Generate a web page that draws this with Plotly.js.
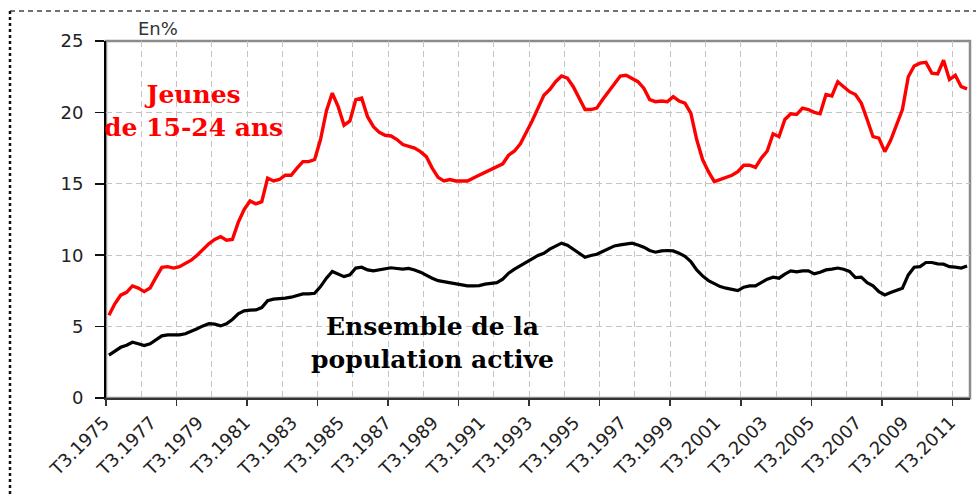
<!DOCTYPE html>
<html>
<head>
<meta charset="utf-8">
<script src="https://cdn.plot.ly/plotly-3.0.1.min.js"></script>
<style>html,body{margin:0;padding:0;background:#fff;}#chart{width:976px;height:497px;}</style>
</head>
<body>
<div id="chart"></div>
<script>
// Quarterly unemployment rate (%), from T3.1975 to T1.2012
const startYear = 1975, startQuarter = 3, nQuarters = 147;
const quarters = [];
for (let i = 0; i < nQuarters; i++) {
  const q = (startQuarter - 1 + i) % 4 + 1;
  const y = startYear + Math.floor((startQuarter - 1 + i) / 4);
  quarters.push('T' + q + '.' + y);
}

const jeunes = [
  5.8, 6.6, 7.2, 7.4, 7.85, 7.7, 7.45, 7.7, 8.45, 9.15,
  9.2, 9.1, 9.2, 9.4, 9.65, 10.0, 10.4, 10.8, 11.1, 11.3,
  11.05, 11.1, 12.3, 13.2, 13.8, 13.6, 13.75, 15.4, 15.2, 15.3,
  15.6, 15.6, 16.1, 16.55, 16.55, 16.7, 18.1, 20.1, 21.35, 20.4,
  19.1, 19.4, 20.9, 21.0, 19.7, 19.0, 18.6, 18.4, 18.35, 18.1,
  17.75, 17.6, 17.5, 17.25, 16.9, 16.1, 15.45, 15.2, 15.3, 15.2,
  15.2, 15.2, 15.4, 15.6, 15.8, 15.95, 16.15, 16.4, 17.0, 17.3,
  17.8, 18.55, 19.4, 20.3, 21.2, 21.6, 22.15, 22.55, 22.4, 21.8,
  21.0, 20.2, 20.2, 20.3, 20.9, 21.45, 21.95, 22.55, 22.6, 22.4,
  22.15, 21.7, 20.9, 20.75, 20.8, 20.75, 21.1, 20.8, 20.65, 19.95,
  18.1, 16.7, 15.85, 15.15, 15.3, 15.5, 15.6, 15.85, 16.3, 16.3,
  16.15, 16.8, 17.3, 18.5, 18.3, 19.5, 19.9, 19.85, 20.3, 20.2,
  20.0, 19.9, 21.25, 21.15, 22.15, 21.8, 21.45, 21.25, 20.65, 19.5,
  18.3, 18.2, 17.25, 18.05, 19.05, 20.2, 22.5, 23.25, 23.45, 23.5,
  22.75, 22.7, 23.65, 22.3, 22.6, 21.8, 21.65
];

const ensemble = [
  3.0, 3.25, 3.55, 3.7, 3.9, 3.8, 3.67, 3.8, 4.07, 4.35,
  4.42, 4.42, 4.42, 4.5, 4.65, 4.85, 5.05, 5.2, 5.17, 5.05,
  5.2, 5.5, 5.9, 6.1, 6.15, 6.17, 6.33, 6.82, 6.92, 6.94,
  6.99, 7.06, 7.15, 7.29, 7.29, 7.33, 7.8, 8.39, 8.86, 8.67,
  8.5, 8.62, 9.1, 9.16, 8.97, 8.9, 8.97, 9.07, 9.12, 9.07,
  9.02, 9.07, 8.97, 8.81, 8.57, 8.39, 8.22, 8.15, 8.1, 8.04,
  7.92, 7.85, 7.85, 7.87, 7.97, 8.04, 8.08, 8.32, 8.74, 9.02,
  9.28, 9.49, 9.74, 9.98, 10.14, 10.42, 10.65, 10.84, 10.7, 10.42,
  10.09, 9.86, 9.98, 10.07, 10.26, 10.47, 10.65, 10.72, 10.79, 10.84,
  10.72, 10.56, 10.33, 10.21, 10.3, 10.33, 10.3, 10.14, 9.92, 9.55,
  8.97, 8.55, 8.22, 7.99, 7.8, 7.69, 7.62, 7.52, 7.76, 7.85,
  7.85, 8.08, 8.32, 8.46, 8.39, 8.67, 8.9, 8.83, 8.9, 8.9,
  8.69, 8.81, 8.97, 9.02, 9.1, 9.02, 8.86, 8.43, 8.46, 8.08,
  7.85, 7.45, 7.22, 7.38, 7.52, 7.69, 8.62, 9.16, 9.2, 9.49,
  9.49, 9.39, 9.37, 9.2, 9.16, 9.1, 9.25
];

const tickLabels = [
  'T3.1975', 'T3.1977', 'T3.1979', 'T3.1981', 'T3.1983', 'T3.1985', 'T3.1987',
  'T3.1989', 'T3.1991', 'T3.1993', 'T3.1995', 'T3.1997', 'T3.1999', 'T3.2001',
  'T3.2003', 'T3.2005', 'T3.2007', 'T3.2009', 'T3.2011'
];
const yTicks = [0, 5, 10, 15, 20, 25];

// category centres (between tick marks, Excel style)
const xPos = quarters.map((q, i) => i + 0.5);
const labelPos = tickLabels.map(l => quarters.indexOf(l) + 0.5);
const majorTicks = [], minorGrid = [];
for (let b = 0; b <= nQuarters; b += 6) { (b % 12 === 0 ? majorTicks : minorGrid).push(b); }

const W = 976, H = 497, M = {l: 106, r: 6, t: 41, b: 99};
const pw = W - M.l - M.r, ph = H - M.t - M.b;
const px = v => (v - M.l) / pw;
const py = v => (H - M.b - v) / ph;

const gridColor = '#c4c4c4';
const gridDash = '6px,4px';

const traces = [
  {x: xPos, y: jeunes, type: 'scatter', mode: 'lines', name: 'Jeunes de 15-24 ans',
   line: {color: '#ff0000', width: 3.4}, xaxis: 'x', yaxis: 'y', hoverinfo: 'x+y'},
  {x: xPos, y: ensemble, type: 'scatter', mode: 'lines', name: 'Ensemble de la population active',
   line: {color: '#000000', width: 3.2}, xaxis: 'x2', yaxis: 'y', hoverinfo: 'x+y'}
];

const layout = {
  width: W, height: H,
  margin: M,
  paper_bgcolor: '#ffffff', plot_bgcolor: '#ffffff',
  showlegend: false,
  xaxis: {
    range: [0, nQuarters], fixedrange: true,
    tickmode: 'array', tickvals: labelPos, ticktext: tickLabels,
    tickangle: -45, ticks: '', showgrid: false, zeroline: false,
    ticklabelstandoff: 5, ticklabelshift: -5,
    showline: true, linecolor: '#333333', linewidth: 2,
    tickfont: {family: 'DejaVu Sans', size: 18, color: '#222222'}
  },
  xaxis2: {
    range: [0, nQuarters], overlaying: 'x', anchor: 'y', side: 'bottom',
    tickmode: 'array', tickvals: majorTicks, showticklabels: false,
    ticks: 'outside', ticklen: 7, tickwidth: 1.5, tickcolor: '#333333',
    showgrid: true, gridcolor: gridColor, gridwidth: 1, griddash: gridDash,
    zeroline: false, showline: false,
    minor: {tickmode: 'array', tickvals: minorGrid, showgrid: true, gridcolor: gridColor,
            gridwidth: 1, griddash: gridDash, ticks: ''}
  },
  yaxis: {
    range: [0, 25], fixedrange: true,
    tickmode: 'array', tickvals: yTicks,
    ticks: 'outside', ticklen: 9, tickwidth: 1.5, tickcolor: '#111111',
    ticklabelstandoff: 8,
    showline: true, linecolor: '#000000', linewidth: 2,
    showgrid: true, gridcolor: gridColor, gridwidth: 1, griddash: gridDash,
    zeroline: false,
    tickfont: {family: 'DejaVu Sans', size: 18, color: '#222222'}
  },
  shapes: [
    {type: 'rect', xref: 'paper', yref: 'paper', x0: 0, x1: 1, y0: 0, y1: 1,
     line: {color: '#8c8c8c', width: 2.5}, layer: 'below'},
    {type: 'line', xref: 'paper', yref: 'paper', x0: px(10), x1: px(976), y0: py(11), y1: py(11),
     line: {color: '#444444', width: 1.5, dash: '5px,4px'}},
    {type: 'line', xref: 'paper', yref: 'paper', x0: px(10), x1: px(10), y0: py(11), y1: py(497),
     line: {color: '#111111', width: 2.5, dash: '3px,3px'}}
  ],
  annotations: [
    {text: 'Jeunes<br>de 15-24 ans', xref: 'paper', yref: 'paper', x: px(193), y: py(111),
     xanchor: 'center', yanchor: 'middle', align: 'center', showarrow: false,
     font: {family: 'DejaVu Serif', size: 25, color: '#ff0000', weight: 'bold'}},
    {text: 'Ensemble de la<br>population active', xref: 'paper', yref: 'paper', x: px(432), y: py(343),
     xanchor: 'center', yanchor: 'middle', align: 'center', showarrow: false,
     font: {family: 'DejaVu Serif', size: 25, color: '#000000', weight: 'bold'}},
    {text: 'En%', xref: 'paper', yref: 'paper', x: px(158), y: py(29),
     xanchor: 'center', yanchor: 'middle', showarrow: false,
     font: {family: 'DejaVu Sans', size: 18, color: '#333333'}}
  ]
};

Plotly.newPlot('chart', traces, layout, {displayModeBar: false, staticPlot: true});
</script>
</body>
</html>
